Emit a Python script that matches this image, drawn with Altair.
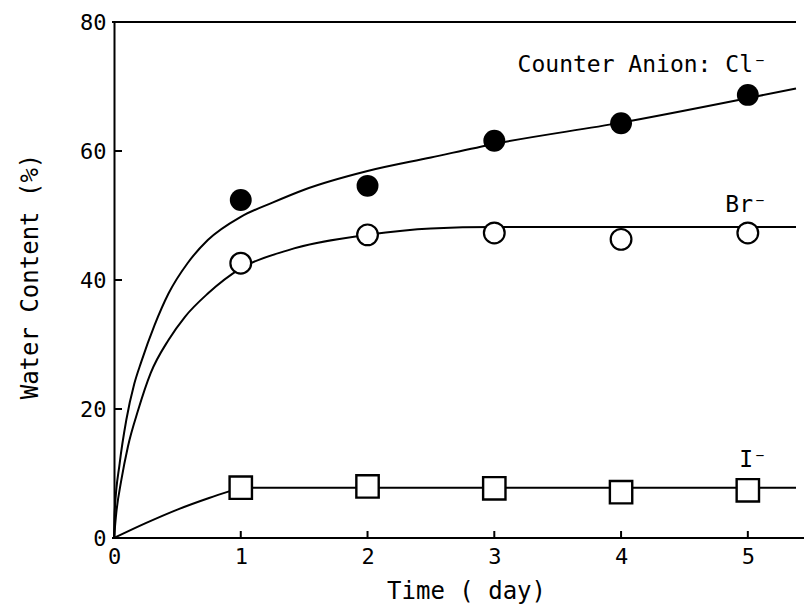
import altair as alt
import pandas as pd

# observed points
days = [1, 2, 3, 4, 5]
cl_obs = [52.4, 54.6, 61.6, 64.3, 68.7]
br_obs = [42.6, 47.0, 47.3, 46.3, 47.3]
i_obs = [7.8, 8.0, 7.7, 7.1, 7.4]

# fitted curves
cl_fit_t = [0, 0.005, 0.045, 0.097, 0.16, 0.215, 0.32, 0.43, 0.58, 0.74, 1.0, 1.25, 1.5, 2.0,
            2.5, 3.0, 4.0, 5.0, 5.38]
cl_fit_v = [0, 3.9, 11.6, 18.3, 23.9, 27.3, 33.0, 37.9, 42.6, 46.2, 49.8, 52.0, 54.0, 56.9,
            59.0, 61.1, 64.4, 68.2, 69.7]
br_fit_t = [0, 0.018, 0.058, 0.11, 0.19, 0.29, 0.43, 0.56, 0.74, 1.0, 1.37, 2.0, 2.5, 3.0, 5.38]
br_fit_v = [0, 3.9, 9.0, 14.2, 19.8, 25.6, 30.7, 34.3, 37.9, 41.8, 44.6, 47.0, 48.0, 48.2, 48.2]
i_fit_t = [0, 0.25, 0.5, 0.75, 0.92, 1.0, 5.38]
i_fit_v = [0, 2.3, 4.4, 6.2, 7.3, 7.8, 7.8]

labels = ["Counter Anion: Cl\u207b", "Br\u207b", "I\u207b"]
label_x = [5.15, 5.15, 5.15]
label_y = [72.2, 50.5, 11.0]

x_ticks = [0, 1, 2, 3, 4, 5]
y_ticks = [0, 20, 40, 60, 80]
x_inner_ticks = [1, 2, 3, 4, 5]
y_inner_ticks = [20, 40, 60]

FONT = "DejaVu Sans Mono"
W, H = 682, 516
XMAX = 5.38

xs = alt.Scale(domain=[0, XMAX], nice=False, zero=False)
ys = alt.Scale(domain=[0, 80], nice=False)

xaxis = alt.Axis(values=x_ticks, format="d", title="Time ( day)", grid=False, ticks=False,
                 domain=False, labelFont=FONT, labelFontSize=22, labelColor="black",
                 labelPadding=8, labelFlush=False, titleFont=FONT, titleFontSize=24,
                 titleFontWeight="normal", titleColor="black", titleX=352, titleY=53,
                 titleBaseline="middle")
yaxis = alt.Axis(values=y_ticks, format="d", title="Water Content (%)", grid=False, ticks=False,
                 domain=True, domainColor="black", domainWidth=2, labelFont=FONT,
                 labelFontSize=22, labelColor="black", labelPadding=8, labelFlush=False,
                 titleFont=FONT, titleFontSize=24, titleFontWeight="normal", titleColor="black",
                 titleX=-84, titleY=254, titleAlign="center", titleBaseline="middle",
                 titleAngle=270)

X = lambda f: alt.X(f, scale=xs, axis=xaxis, title="Time ( day)")
Y = lambda f: alt.Y(f, scale=ys, axis=yaxis, title="Water Content (%)")


def curve(t, v):
    return alt.Chart(pd.DataFrame({"t": t, "v": v})).mark_line(
        color="black", strokeWidth=2, interpolate="monotone").encode(x=X("t:Q"), y=Y("v:Q"))


cl_line = curve(cl_fit_t, cl_fit_v)
br_line = curve(br_fit_t, br_fit_v)
i_line = curve(i_fit_t, i_fit_v)


def obs(vals):
    return pd.DataFrame({"t": days, "v": vals})


cl_pts = alt.Chart(obs(cl_obs)).mark_point(shape="circle", filled=True, color="black",
                                           size=480, opacity=1).encode(x=X("t:Q"), y=Y("v:Q"))
br_pts = alt.Chart(obs(br_obs)).mark_point(shape="circle", filled=True, fill="white",
                                           stroke="black", strokeWidth=2.2, size=430,
                                           opacity=1).encode(x=X("t:Q"), y=Y("v:Q"))
i_pts = alt.Chart(obs(i_obs)).mark_point(shape="square", filled=True, fill="white",
                                         stroke="black", strokeWidth=2.4, size=500,
                                         opacity=1).encode(x=X("t:Q"), y=Y("v:Q"))

lab_df = pd.DataFrame({"t": label_x, "v": label_y, "lab": labels})
lab = alt.Chart(lab_df).mark_text(font=FONT, fontSize=23, align="right",
                                  baseline="alphabetic", color="black").encode(
    x=X("t:Q"), y=Y("v:Q"), text="lab:N")

xt = alt.Chart(pd.DataFrame({"t": x_inner_ticks})).mark_rule(color="black", strokeWidth=2).encode(
    x=X("t:Q"), y=alt.value(H), y2=alt.value(H - 7))
yt = alt.Chart(pd.DataFrame({"v": y_inner_ticks})).mark_rule(color="black", strokeWidth=2).encode(
    y=Y("v:Q"), x=alt.value(0), x2=alt.value(8))

bottom = alt.Chart(pd.DataFrame({"a": [0]})).mark_rule(color="black", strokeWidth=2).encode(
    x=alt.value(-2), x2=alt.value(W + 9), y=alt.value(H))
top = alt.Chart(pd.DataFrame({"a": [0]})).mark_rule(color="black", strokeWidth=2).encode(
    x=alt.value(-2), x2=alt.value(W), y=alt.value(0))

chart = alt.layer(cl_line, br_line, i_line, xt, yt, bottom, top, cl_pts, br_pts, i_pts, lab).properties(
    width=W, height=H,
    autosize=alt.AutoSizeParams(type="none"),
    padding={"left": 114, "top": 22, "right": 8, "bottom": 75},
    background="white",
).configure_view(stroke=None)

chart.save("out.html", embed_options={"renderer": "svg", "actions": False})
